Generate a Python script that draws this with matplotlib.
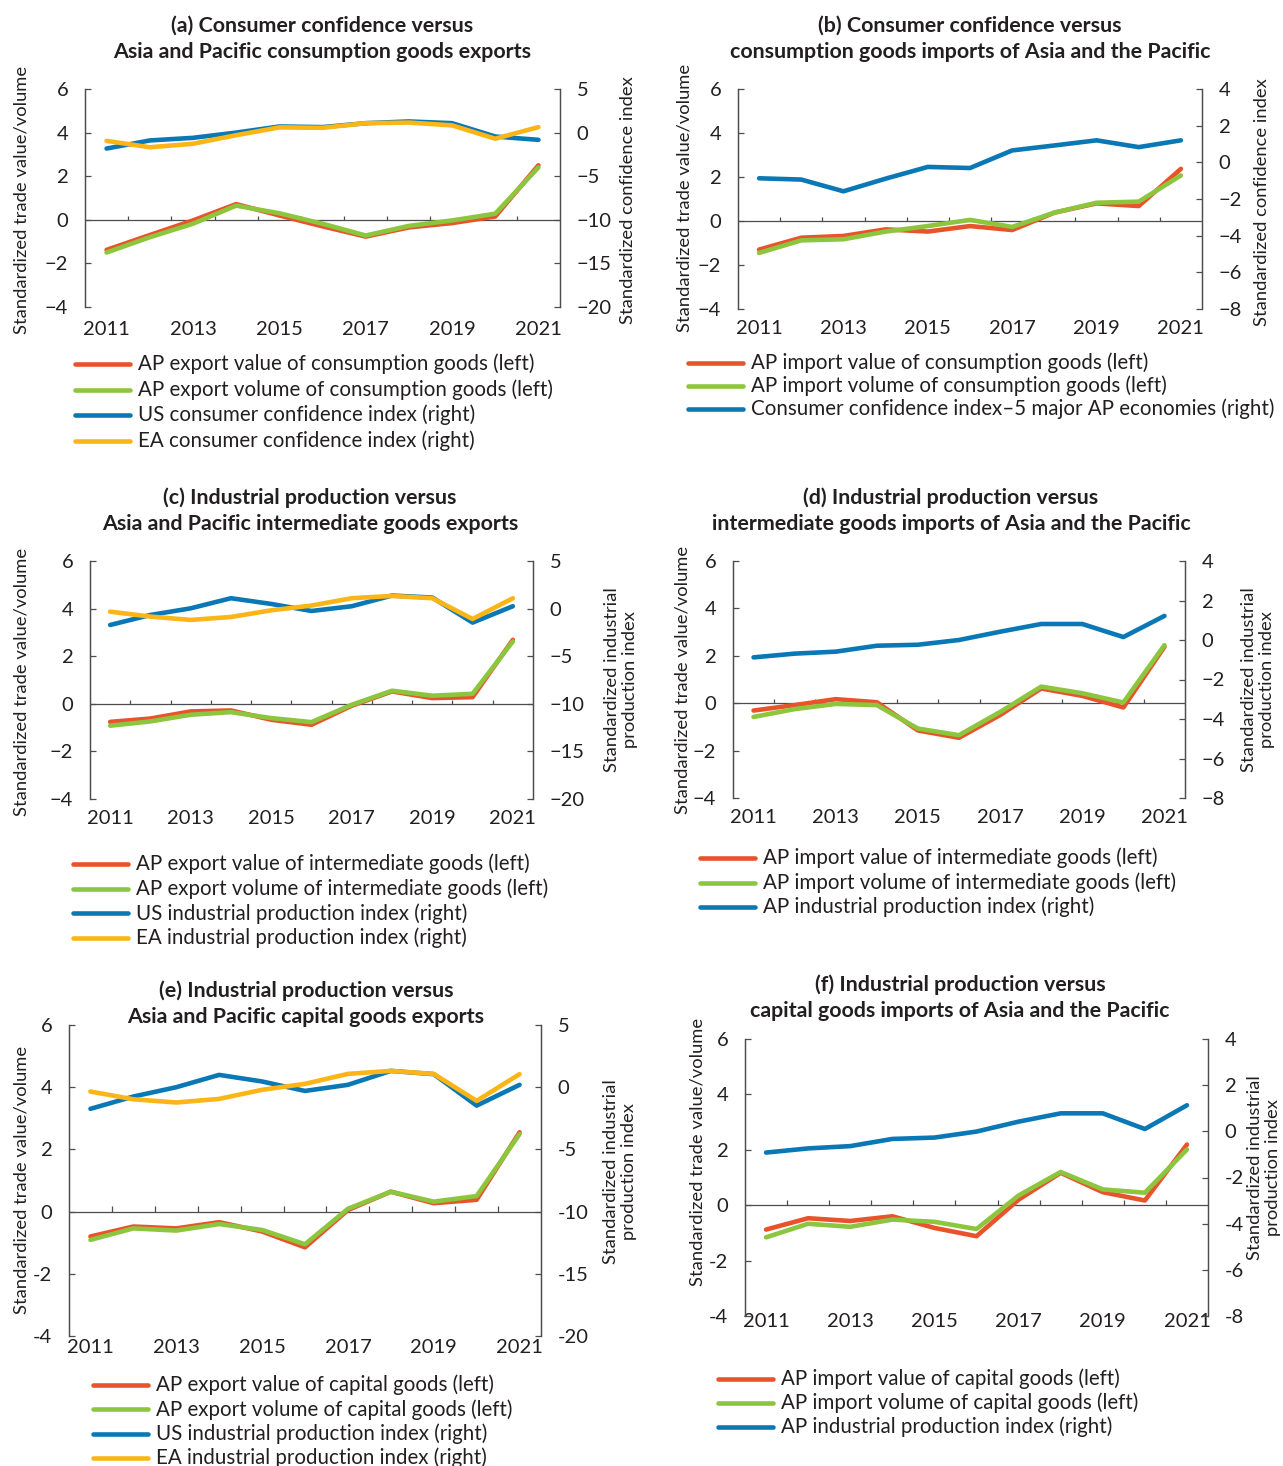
import matplotlib.pyplot as plt
from matplotlib.lines import Line2D
import numpy as np

plt.rcParams['font.family'] = ['Lato', 'DejaVu Sans']

TXT = '#231F20'
AXC = '#4D4D4F'
RED = '#E9532B'
GREEN = '#8CC63E'
BLUE = '#0A78B5'
YELLOW = '#FBB516'

years = list(range(2011, 2022))

# (a) consumer confidence vs AP consumption goods exports
a_exp_val = [-1.38, -0.70, -0.03, 0.72, 0.20, -0.30, -0.77, -0.35, -0.15, 0.15, 2.50]
a_exp_vol = [-1.50, -0.80, -0.18, 0.65, 0.30, -0.18, -0.72, -0.28, -0.03, 0.28, 2.40]
a_us_cci = [-1.83, -0.90, -0.60, 0.00, 0.70, 0.63, 1.08, 1.28, 1.08, -0.45, -0.83]
a_ea_cci = [-0.95, -1.68, -1.28, -0.30, 0.60, 0.55, 1.08, 1.15, 0.83, -0.70, 0.63]

# (b) consumer confidence vs AP consumption goods imports
b_imp_val = [-1.30, -0.76, -0.68, -0.38, -0.48, -0.23, -0.41, 0.38, 0.80, 0.68, 2.37]
b_imp_vol = [-1.45, -0.88, -0.83, -0.48, -0.23, 0.05, -0.27, 0.38, 0.83, 0.88, 2.07]
b_ap_cci = [-0.87, -0.94, -1.58, -0.89, -0.25, -0.31, 0.65, 0.92, 1.20, 0.83, 1.20]

# (c) industrial production vs AP intermediate goods exports
c_exp_val = [-0.76, -0.62, -0.32, -0.28, -0.67, -0.88, -0.08, 0.52, 0.24, 0.28, 2.69]
c_exp_vol = [-0.92, -0.74, -0.46, -0.35, -0.60, -0.77, -0.04, 0.55, 0.34, 0.42, 2.62]
c_us_ip = [-1.72, -0.67, 0.03, 1.09, 0.49, -0.25, 0.25, 1.37, 1.16, -1.47, 0.25]
c_ea_ip = [-0.32, -0.84, -1.19, -0.88, -0.18, 0.32, 1.09, 1.33, 1.09, -1.09, 1.09]

# (d) industrial production vs AP intermediate goods imports
d_imp_val = [-0.31, -0.08, 0.17, 0.04, -1.15, -1.46, -0.50, 0.62, 0.31, -0.18, 2.38]
d_imp_vol = [-0.58, -0.25, -0.03, -0.08, -1.07, -1.35, -0.37, 0.70, 0.42, 0.03, 2.45]
d_ap_ip = [-0.88, -0.69, -0.59, -0.29, -0.24, 0.00, 0.42, 0.81, 0.81, 0.15, 1.22]

# (e) industrial production vs AP capital goods exports
e_exp_val = [-0.80, -0.48, -0.54, -0.34, -0.64, -1.15, 0.05, 0.64, 0.27, 0.38, 2.55]
e_exp_vol = [-0.91, -0.54, -0.61, -0.40, -0.59, -1.05, 0.09, 0.64, 0.32, 0.50, 2.49]
e_us_ip = [-1.74, -0.75, 0.00, 0.99, 0.46, -0.30, 0.19, 1.31, 1.05, -1.48, 0.19]
e_ea_ip = [-0.35, -0.97, -1.23, -0.94, -0.21, 0.27, 1.07, 1.31, 1.07, -1.10, 1.05]

# (f) industrial production vs AP capital goods imports
f_imp_val = [-0.88, -0.47, -0.57, -0.40, -0.82, -1.12, 0.20, 1.17, 0.47, 0.17, 2.19]
f_imp_vol = [-1.16, -0.67, -0.78, -0.52, -0.60, -0.86, 0.35, 1.20, 0.57, 0.45, 2.01]
f_ap_ip = [-0.92, -0.74, -0.64, -0.33, -0.27, -0.01, 0.42, 0.78, 0.78, 0.10, 1.13]

W, H = 1283, 1466
fig = plt.figure(figsize=(W / 100, H / 100), dpi=100)


def box(l, r, t, b):
    return [l / W, 1 - b / H, (r - l) / W, (b - t) / H]


def fmt(v, uminus):
    s = str(int(v))
    return s.replace('-', '\u2212') if uminus else s


def panel(pos, left, right, rlim, rstep, xpad, uminus=True):
    x = np.arange(len(years))
    ax = fig.add_axes(box(*pos))
    ax2 = ax.twinx()
    for s in ['top', 'bottom']:
        ax.spines[s].set_visible(False)
        ax2.spines[s].set_visible(False)
    for s in ['left', 'right']:
        ax.spines[s].set_color(AXC)
        ax.spines[s].set_linewidth(0.9)
        ax2.spines[s].set_color(AXC)
        ax2.spines[s].set_linewidth(0.9)
    ax.set_xlim(-0.5, len(years) - 0.5)
    ax.set_ylim(-4, 6)
    lt = np.arange(-4, 7, 2)
    ax.set_yticks(lt, [fmt(v, uminus) for v in lt])
    rt = np.arange(rlim[0], rlim[1] + 1, rstep)
    ax2.set_ylim(*rlim)
    ax2.set_yticks(rt, [fmt(v, uminus) for v in rt])
    ax.tick_params(axis='y', direction='in', length=4, width=0.9, color=AXC,
                   labelsize=14.5, labelcolor=TXT, pad=12)
    ax2.tick_params(axis='y', direction='in', length=4, width=0.9, color=AXC,
                    labelsize=14.5, labelcolor=TXT, pad=12)
    ax.set_xticks(x[::2], [str(y) for y in years[::2]])
    ax.tick_params(axis='x', length=0, labelsize=14.5, labelcolor=TXT, pad=xpad)
    # zero line with category boundary ticks
    ax.axhline(0, color=AXC, lw=0.9, zorder=1)
    ax.vlines(x[:-1] + 0.5, 0, 0.17, color=AXC, lw=0.9, zorder=1)
    for vals, c in left:
        ax.plot(x, vals, color=c, lw=3.3, solid_capstyle='round', zorder=3)
    for vals, c in right:
        ax2.plot(x, vals, color=c, lw=3.3, solid_capstyle='round', zorder=3)
    return ax


def title(cx, cy, text):
    fig.text(cx / W, 1 - cy / H, text, ha='center', va='center', fontsize=15.4,
             fontweight='bold', color=TXT, linespacing=1.4)


def vlabel(cx, cy, text, ls=1.15):
    fig.text(cx / W, 1 - cy / H, text, ha='center', va='center', rotation=90,
             fontsize=13.2, color=TXT, linespacing=ls)


def legend(x0, y0, dy, items):
    for i, (c, lab) in enumerate(items):
        y = 1 - (y0 + i * dy) / H
        fig.add_artist(Line2D([x0 / W, (x0 + 55) / W], [y, y], color=c, lw=3.3,
                              solid_capstyle='round'))
        fig.text((x0 + 63) / W, y, lab, ha='left', va='center', fontsize=14.8,
                 color=TXT)


# (a)
panel((85, 560, 89, 307), [(a_exp_val, RED), (a_exp_vol, GREEN)],
      [(a_us_cci, BLUE), (a_ea_cci, YELLOW)], (-20, 5), 5, 10)
title(322, 39, '(a) Consumer confidence versus\nAsia and Pacific consumption goods exports')
vlabel(22, 200, 'Standardized trade value/volume')
vlabel(628, 200, 'Standardized confidence index')
legend(75, 364, 25.5, [(RED, 'AP export value of consumption goods (left)'),
                       (GREEN, 'AP export volume of consumption goods (left)'),
                       (BLUE, 'US consumer confidence index (right)'),
                       (YELLOW, 'EA consumer confidence index (right)')])

# (b)
panel((738, 1202, 89, 309), [(b_imp_val, RED), (b_imp_vol, GREEN)],
      [(b_ap_cci, BLUE)], (-8, 4), 2, 8)
title(970, 39, '(b) Consumer confidence versus\nconsumption goods imports of Asia and the Pacific')
vlabel(684, 198, 'Standardized trade value/volume')
vlabel(1262, 202, 'Standardized confidence index')
legend(688, 363, 23, [(RED, 'AP import value of consumption goods (left)'),
                      (GREEN, 'AP import volume of consumption goods (left)'),
                      (BLUE, 'Consumer confidence index\u20135 major AP economies (right)')])

# (c)
panel((90, 533, 561, 799), [(c_exp_val, RED), (c_exp_vol, GREEN)],
      [(c_us_ip, BLUE), (c_ea_ip, YELLOW)], (-20, 5), 5, 8)
title(310, 511, '(c) Industrial production versus\nAsia and Pacific intermediate goods exports')
vlabel(22, 682, 'Standardized trade value/volume')
vlabel(621, 680, 'Standardized industrial\nproduction index')
legend(73, 864, 24.7, [(RED, 'AP export value of intermediate goods (left)'),
                       (GREEN, 'AP export volume of intermediate goods (left)'),
                       (BLUE, 'US industrial production index (right)'),
                       (YELLOW, 'EA industrial production index (right)')])

# (d)
panel((733, 1185, 561, 798), [(d_imp_val, RED), (d_imp_vol, GREEN)],
      [(d_ap_ip, BLUE)], (-8, 4), 2, 8)
title(951, 511, '(d) Industrial production versus\nintermediate goods imports of Asia and the Pacific')
vlabel(682, 680, 'Standardized trade value/volume')
vlabel(1258, 680, 'Standardized industrial\nproduction index')
legend(700, 858, 24.5, [(RED, 'AP import value of intermediate goods (left)'),
                        (GREEN, 'AP import volume of intermediate goods (left)'),
                        (BLUE, 'AP industrial production index (right)')])

# (e)
panel((69, 541, 1025, 1336), [(e_exp_val, RED), (e_exp_vol, GREEN)],
      [(e_us_ip, BLUE), (e_ea_ip, YELLOW)], (-20, 5), 5, 2, uminus=False)
title(306, 1004, '(e) Industrial production versus\nAsia and Pacific capital goods exports')
vlabel(22, 1180, 'Standardized trade value/volume')
vlabel(620, 1172, 'Standardized industrial\nproduction index')
legend(93, 1385, 24.3, [(RED, 'AP export value of capital goods (left)'),
                        (GREEN, 'AP export volume of capital goods (left)'),
                        (BLUE, 'US industrial production index (right)'),
                        (YELLOW, 'EA industrial production index (right)')])

# (f)
panel((745, 1208, 1039, 1316), [(f_imp_val, RED), (f_imp_vol, GREEN)],
      [(f_ap_ip, BLUE)], (-8, 4), 2, -2, uminus=False)
title(960, 998, '(f) Industrial production versus\ncapital goods imports of Asia and the Pacific')
vlabel(697, 1152, 'Standardized trade value/volume')
vlabel(1264, 1168, 'Standardized industrial\nproduction index')
legend(718, 1379, 24, [(RED, 'AP import value of capital goods (left)'),
                       (GREEN, 'AP import volume of capital goods (left)'),
                       (BLUE, 'AP industrial production index (right)')])

fig.savefig('out.png', dpi=100, facecolor='white')
